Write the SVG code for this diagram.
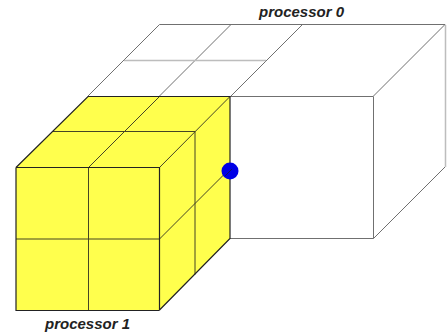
<svg xmlns="http://www.w3.org/2000/svg" width="447" height="334" viewBox="0 0 447 334">
<style>
.g{fill:none;stroke:#707070;stroke-width:1}
.k{fill:none;stroke:#454525;stroke-width:1}
.d{fill:none;stroke:#222;stroke-width:1.2}
.l{fill:none;stroke:#bdbdbd;stroke-width:1.5}
.t{font-family:"Liberation Sans",Arial,sans-serif;font-size:15px;font-weight:bold;font-style:italic;fill:#222}
</style>
<rect width="447" height="334" fill="#fff"/>
<g id="processor-0">
<path class="g" d="M159.500 24.500H445M159.500 24.500L88 96M231 24.500L159.500 96M302.500 24.500L231 96M445 24.500L373.500 96M230 96.500H373.500V238.500H230M373.500 238.500L445 167"/>
<path class="l" d="M124 60.500H266M445.500 25V167"/>
<text class="t" x="259" y="17">processor 0</text>
</g>
<g id="processor-1">
<path d="M16 167.500L88 96.500H230V238.500L159.500 310H16Z" fill="#ffff4d"/>
<path class="k" d="M88.500 167.500V310M16 239H159.500M52 131.500H195M195 131.500V274.500M88.500 167.500L159.500 96.500M159.500 167.500L230 96.500M159.500 239L224 174.500"/>
<path class="d" d="M16 167.500H159.500V310M16 167.500V310.500H159.500M16 167.500L88 96.500H230V238.500L159.500 310"/>
<text class="t" x="45" y="329">processor 1</text>
</g>
<g id="marker">
<circle cx="230" cy="171" r="8.500" fill="#0000e6"/>
<path d="M225 176L232 169" stroke="#111166" fill="none"/>
</g>
</svg>
